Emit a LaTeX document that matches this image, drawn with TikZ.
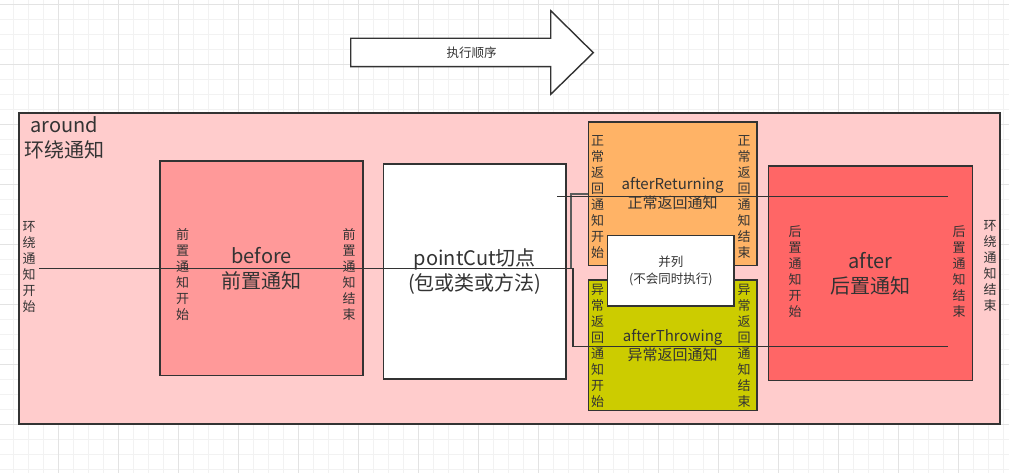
\documentclass[tikz,border=0pt]{standalone}
\usepackage{fontspec}
\setmainfont{Noto Sans CJK SC}
\definecolor{ink}{HTML}{333333}
\definecolor{aroundc}{HTML}{FFCCCC}
\definecolor{beforec}{HTML}{FF9999}
\definecolor{retc}{HTML}{FFB366}
\definecolor{throwc}{HTML}{CCCC00}
\definecolor{afterc}{HTML}{FF6666}
\definecolor{gridminor}{HTML}{F2F2F2}
\definecolor{gridmajor}{HTML}{E3E3E3}
\begin{document}
\begin{tikzpicture}[x=1pt,y=-1pt,
  box/.style={draw=ink, line width=1.4pt, inner sep=0pt, align=center, text=ink},
  vlab/.style={align=center, text=ink, inner sep=0pt, font=\fontsize{13}{16}\selectfont},
  bigtxt/.style={font=\fontsize{20}{25}\selectfont},
  midtxt/.style={font=\fontsize{15}{19}\selectfont},
  wire/.style={draw=ink, line width=1.4pt},
  graywire/.style={draw=ink!80, line width=1.3pt}]
\useasboundingbox (0,0) rectangle (1009,473);
\fill[white] (0,0) rectangle (1009,473);
% background grid
\foreach \k in {0,...,66} {
  \pgfmathsetmacro{\gx}{13.3+15*\k}
  \draw[gridminor, line width=0.8pt] (\gx,0) -- (\gx,473);
}
\foreach \k in {0,...,31} {
  \pgfmathsetmacro{\gy}{4+15*\k}
  \draw[gridminor, line width=0.8pt] (0,\gy) -- (1009,\gy);
}
\foreach \k in {0,...,16} {
  \pgfmathsetmacro{\gx}{-1.7+60*\k}
  \draw[gridmajor, line width=0.8pt] (\gx,0) -- (\gx,473);
}
\foreach \k in {0,...,7} {
  \pgfmathsetmacro{\gy}{4+60*\k}
  \draw[gridmajor, line width=0.8pt] (0,\gy) -- (1009,\gy);
}
% execution order arrow
\draw[draw=ink, fill=white, line width=1.4pt] (350.7,38.3) -- (550.7,38.3) -- (550.7,10.7) -- (593.3,52.7) -- (550.7,94.3) -- (550.7,66.7) -- (350.7,66.7) -- cycle;
\node[text=ink, inner sep=0pt, font=\fontsize{12.5}{15}\selectfont] (order) at (471.7,52.7) {执行顺序};
% around
\node[box, fill=aroundc, minimum width=981pt, minimum height=311pt] (around) at (509.5,268.5) {};
\node[text=ink, inner sep=0pt, align=center, bigtxt] (aroundlbl) at (64.5,138) {around\\环绕通知};
\node[vlab] (arS) at (29,266.7) {环\\绕\\通\\知\\开\\始};
\node[vlab] (arE) at (990,266) {环\\绕\\通\\知\\结\\束};
% before
\node[box, fill=beforec, minimum width=203pt, minimum height=214.7pt, bigtxt] (before) at (261.5,268.3) {before\\前置通知};
\node[vlab] (bfS) at (182.7,274.2) {前\\置\\通\\知\\开\\始};
\node[vlab] (bfE) at (349,274.2) {前\\置\\通\\知\\结\\束};
% pointcut
\node[box, fill=white, minimum width=182.3pt, minimum height=215pt, bigtxt] (pc) at (474.85,271.5) {pointCut切点\\(包或类或方法)};
% afterReturning
\node[box, fill=retc, minimum width=168.7pt, minimum height=143.7pt, midtxt] (ret) at (672.65,193.85) {afterReturning\\正常返回通知};
\node[vlab] (retS) at (597.7,197.5) {正\\常\\返\\回\\通\\知\\开\\始};
\node[vlab] (retE) at (744,197.5) {正\\常\\返\\回\\通\\知\\结\\束};
% afterThrowing
\node[box, fill=throwc, minimum width=168.7pt, minimum height=130.7pt, midtxt] (thr) at (672.65,345.35) {afterThrowing\\异常返回通知};
\node[vlab] (thrS) at (597.7,346.3) {异\\常\\返\\回\\通\\知\\开\\始};
\node[vlab] (thrE) at (744,346.3) {异\\常\\返\\回\\通\\知\\结\\束};
% parallel
\node[box, fill=white, minimum width=126.3pt, minimum height=70.3pt, font=\fontsize{12.5}{17}\selectfont] (par) at (670.85,270.85) {并列\\(不会同时执行)};
% after
\node[box, fill=afterc, minimum width=204pt, minimum height=214.7pt, bigtxt] (after) at (870.3,273.35) {after\\后置通知};
\node[vlab] (afS) at (795,271.7) {后\\置\\通\\知\\开\\始};
\node[vlab] (afE) at (959,271.7) {后\\置\\通\\知\\结\\束};
% flow lines
\coordinate (s1) at (39,268.5);
\coordinate (b1) at (573,268.5);
\coordinate (b2) at (573,346.5);
\coordinate (e1) at (948,346.5);
\coordinate (s2) at (557,196.5);
\coordinate (e2) at (948,196.5);
\coordinate (g1) at (571,268.5);
\coordinate (g2) at (571,194);
\draw[graywire] (g1) -- (g2) -- (ret.west |- g2);
\draw[wire] (s1) -- (b1) -- (b2) -- (e1);
\draw[wire] (s2) -- (e2);
\end{tikzpicture}
\end{document}
